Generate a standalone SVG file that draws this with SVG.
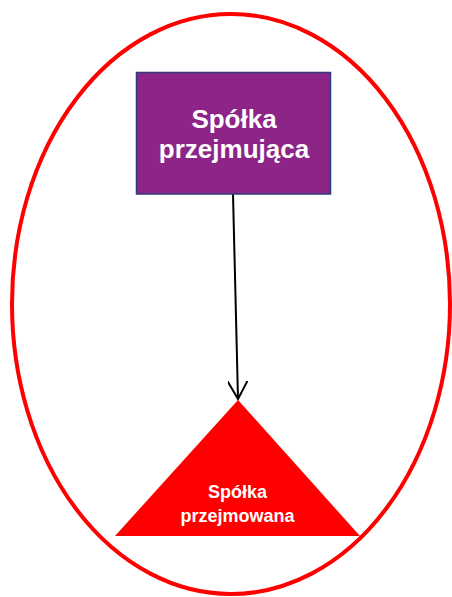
<svg xmlns="http://www.w3.org/2000/svg" width="452" height="597" viewBox="0 0 452 597">
<style>
.t{font-family:"Liberation Sans",Arial,sans-serif;font-weight:bold;fill:#fff;text-anchor:middle}
</style>
<defs>
<marker id="arr" viewBox="0 0 20 20" refX="18" refY="10" markerWidth="20" markerHeight="20" markerUnits="userSpaceOnUse" orient="auto">
<path d="M0,0 L18,10 L0,20" fill="none" stroke="#000" stroke-width="2"/>
</marker>
</defs>
<rect width="452" height="597" fill="#fff"/>
<g id="boundary">
<ellipse cx="231" cy="304" rx="219" ry="290" fill="none" stroke="#ff0000" stroke-width="4"/>
</g>
<g id="connectors">
<line x1="233" y1="194" x2="238" y2="399" stroke="#000" stroke-width="2" marker-end="url(#arr)"/>
</g>
<g id="acquirer">
<rect x="136.5" y="72.5" width="194" height="121.5" fill="#8d2589" stroke="#2e3a7a" stroke-width="1.5"/>
<text class="t" x="234" y="128" font-size="26">Spółka</text>
<text class="t" x="234" y="158" font-size="26">przejmująca</text>
</g>
<g id="acquired">
<polygon points="238,400 360,536 115,536" fill="#ff0000"/>
<text class="t" x="237.5" y="498" font-size="18">Spółka</text>
<text class="t" x="237.5" y="522" font-size="18">przejmowana</text>
</g>
</svg>
